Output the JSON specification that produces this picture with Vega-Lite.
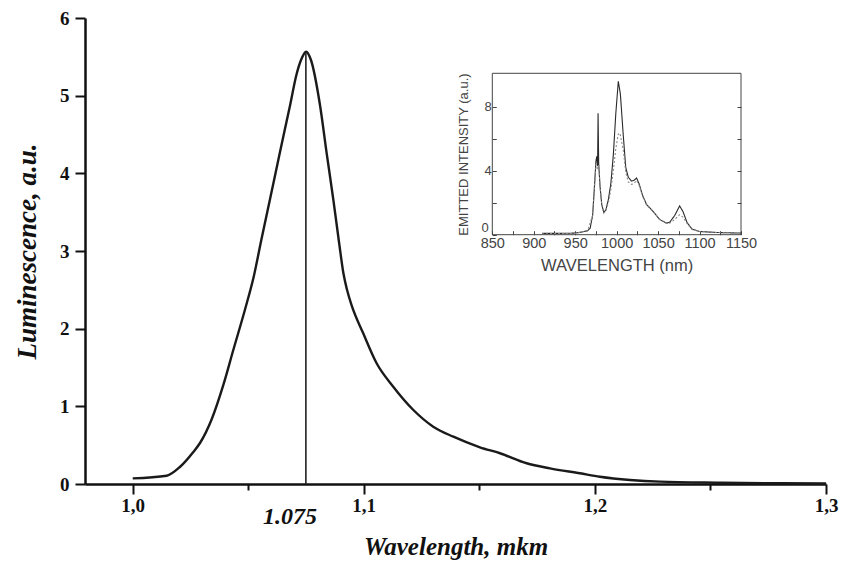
{
  "$schema": "https://vega.github.io/schema/vega-lite/v6.json",
  "width": 741,
  "height": 466,
  "autosize": {"type": "none"},
  "padding": {"left": 85, "top": 18, "right": 21, "bottom": 82},
  "background": "white",
  "config": {"view": {"stroke": null}},
  "datasets": {
    "main": [
      {"wl": 1.0001, "lum": 0.073}, {"wl": 1.0148, "lum": 0.107}, {"wl": 1.0205, "lum": 0.219},
      {"wl": 1.0263, "lum": 0.412}, {"wl": 1.0292, "lum": 0.528}, {"wl": 1.0343, "lum": 0.837},
      {"wl": 1.0393, "lum": 1.275}, {"wl": 1.0436, "lum": 1.725}, {"wl": 1.0487, "lum": 2.25},
      {"wl": 1.0523, "lum": 2.652}, {"wl": 1.0559, "lum": 3.167}, {"wl": 1.0595, "lum": 3.669},
      {"wl": 1.0638, "lum": 4.275}, {"wl": 1.0681, "lum": 4.867}, {"wl": 1.071, "lum": 5.279},
      {"wl": 1.0729, "lum": 5.459}, {"wl": 1.0751, "lum": 5.566}, {"wl": 1.0772, "lum": 5.459},
      {"wl": 1.0811, "lum": 4.88}, {"wl": 1.084, "lum": 4.258}, {"wl": 1.0869, "lum": 3.656},
      {"wl": 1.0895, "lum": 3.077}, {"wl": 1.0912, "lum": 2.72}, {"wl": 1.0928, "lum": 2.5},
      {"wl": 1.0948, "lum": 2.3}, {"wl": 1.0998, "lum": 1.94},
      {"wl": 1.1056, "lum": 1.554}, {"wl": 1.1128, "lum": 1.253}, {"wl": 1.1215, "lum": 0.953},
      {"wl": 1.1301, "lum": 0.738}, {"wl": 1.1388, "lum": 0.609}, {"wl": 1.1503, "lum": 0.473},
      {"wl": 1.159, "lum": 0.396}, {"wl": 1.1705, "lum": 0.267}, {"wl": 1.1806, "lum": 0.202},
      {"wl": 1.1936, "lum": 0.138}, {"wl": 1.2022, "lum": 0.094}, {"wl": 1.2152, "lum": 0.052},
      {"wl": 1.2282, "lum": 0.03}, {"wl": 1.2541, "lum": 0.017}, {"wl": 1.2801, "lum": 0.009},
      {"wl": 1.3, "lum": 0.006}
    ],
    "peak": [{"wl": 1.075, "lo": 0, "hi": 5.566, "labelY": -0.42, "text": "1.075"}],
    "inset": [
      {"nm": 910, "v": 0.08, "s": "a"}, {"nm": 930, "v": 0.08, "s": "a"}, {"nm": 950, "v": 0.1, "s": "a"},
      {"nm": 956, "v": 0.15, "s": "a"}, {"nm": 965, "v": 0.25, "s": "a"}, {"nm": 968, "v": 0.4, "s": "a"},
      {"nm": 971, "v": 1.2, "s": "a"}, {"nm": 973, "v": 2.8, "s": "a"}, {"nm": 975, "v": 4.6, "s": "a"},
      {"nm": 976, "v": 4.9, "s": "a"}, {"nm": 977, "v": 4.3, "s": "a"}, {"nm": 977.6, "v": 7.6, "s": "a"},
      {"nm": 978.3, "v": 4.5, "s": "a"}, {"nm": 980, "v": 3.0, "s": "a"}, {"nm": 982, "v": 1.9, "s": "a"},
      {"nm": 984.5, "v": 1.4, "s": "a"}, {"nm": 987, "v": 1.55, "s": "a"}, {"nm": 990, "v": 2.2, "s": "a"},
      {"nm": 993, "v": 3.2, "s": "a"}, {"nm": 996, "v": 5.0, "s": "a"}, {"nm": 999, "v": 7.6, "s": "a"},
      {"nm": 1002, "v": 9.6, "s": "a"}, {"nm": 1004.5, "v": 8.8, "s": "a"}, {"nm": 1008, "v": 6.2, "s": "a"},
      {"nm": 1011, "v": 4.2, "s": "a"}, {"nm": 1014, "v": 3.6, "s": "a"}, {"nm": 1018, "v": 3.35, "s": "a"},
      {"nm": 1021, "v": 3.4, "s": "a"}, {"nm": 1024, "v": 3.55, "s": "a"}, {"nm": 1027, "v": 3.2, "s": "a"},
      {"nm": 1031, "v": 2.5, "s": "a"}, {"nm": 1036, "v": 1.9, "s": "a"}, {"nm": 1044, "v": 1.45, "s": "a"},
      {"nm": 1052, "v": 0.95, "s": "a"}, {"nm": 1060, "v": 0.72, "s": "a"}, {"nm": 1064, "v": 0.78, "s": "a"},
      {"nm": 1070, "v": 1.2, "s": "a"}, {"nm": 1076, "v": 1.8, "s": "a"}, {"nm": 1080, "v": 1.45, "s": "a"},
      {"nm": 1085, "v": 0.75, "s": "a"}, {"nm": 1091, "v": 0.35, "s": "a"}, {"nm": 1100, "v": 0.2, "s": "a"},
      {"nm": 1120, "v": 0.14, "s": "a"}, {"nm": 1150, "v": 0.1, "s": "a"},
      {"nm": 910, "v": 0.06, "s": "b"}, {"nm": 950, "v": 0.08, "s": "b"}, {"nm": 965, "v": 0.25, "s": "b"},
      {"nm": 971, "v": 1.2, "s": "b"}, {"nm": 973, "v": 2.8, "s": "b"}, {"nm": 975, "v": 4.4, "s": "b"},
      {"nm": 977, "v": 4.1, "s": "b"}, {"nm": 978.3, "v": 4.4, "s": "b"}, {"nm": 980, "v": 3.0, "s": "b"},
      {"nm": 982, "v": 1.9, "s": "b"}, {"nm": 984.5, "v": 1.35, "s": "b"}, {"nm": 987, "v": 1.5, "s": "b"},
      {"nm": 990, "v": 2.0, "s": "b"}, {"nm": 993, "v": 2.8, "s": "b"}, {"nm": 996, "v": 4.0, "s": "b"},
      {"nm": 999, "v": 5.4, "s": "b"}, {"nm": 1002, "v": 6.3, "s": "b"}, {"nm": 1004, "v": 6.35, "s": "b"},
      {"nm": 1008, "v": 5.3, "s": "b"}, {"nm": 1011, "v": 3.9, "s": "b"}, {"nm": 1014, "v": 3.3, "s": "b"},
      {"nm": 1018, "v": 3.15, "s": "b"}, {"nm": 1021, "v": 3.2, "s": "b"}, {"nm": 1024, "v": 3.4, "s": "b"},
      {"nm": 1027, "v": 3.1, "s": "b"}, {"nm": 1031, "v": 2.45, "s": "b"}, {"nm": 1036, "v": 1.85, "s": "b"},
      {"nm": 1044, "v": 1.45, "s": "b"}, {"nm": 1052, "v": 0.95, "s": "b"}, {"nm": 1060, "v": 0.72, "s": "b"},
      {"nm": 1064, "v": 0.72, "s": "b"}, {"nm": 1070, "v": 0.95, "s": "b"}, {"nm": 1076, "v": 1.25, "s": "b"},
      {"nm": 1080, "v": 1.1, "s": "b"}, {"nm": 1085, "v": 0.7, "s": "b"}, {"nm": 1091, "v": 0.33, "s": "b"},
      {"nm": 1100, "v": 0.2, "s": "b"}, {"nm": 1120, "v": 0.14, "s": "b"}, {"nm": 1150, "v": 0.1, "s": "b"}
    ],
    "frame": [{"x1": 850, "x2": 1150, "y1": 0, "y2": 10.1}]
  },
  "resolve": {
    "scale": {"x": "independent", "y": "independent"},
    "axis": {"x": "independent", "y": "independent"}
  },
  "layer": [
    {
      "layer": [
        {
          "data": {"name": "main"},
          "mark": {"type": "line", "color": "#1a1a1a", "strokeWidth": 2.4, "interpolate": "monotone"},
          "encoding": {
            "x": {
              "field": "wl", "type": "quantitative",
              "scale": {"domain": [0.97945, 1.3], "nice": false, "zero": false},
              "axis": {
                "orient": "bottom",
                "values": [1.0, 1.05, 1.1, 1.15, 1.2, 1.25, 1.3],
                "format": ".1f",
                "labelExpr": "round(datum.value*100) % 10 === 0 ? replace(datum.label, '.', ',') : ''",
                "tickSize": {"condition": {"test": "round(datum.value*100) % 10 === 0", "value": 10}, "value": 6},
                "tickColor": "#111", "tickWidth": 2,
                "domainColor": "#111", "domainWidth": 2.5,
                "labelFont": "Liberation Serif", "labelFontWeight": "bold", "labelFontSize": 19,
                "labelColor": "#111", "labelPadding": 2, "labelFlush": false,
                "grid": false,
                "title": "Wavelength, mkm",
                "titleFont": "Liberation Serif", "titleFontStyle": "italic", "titleFontWeight": "bold",
                "titleFontSize": 25, "titleColor": "#111", "titlePadding": 19
              }
            },
            "y": {
              "field": "lum", "type": "quantitative",
              "scale": {"domain": [0, 6], "nice": false},
              "axis": {
                "orient": "left",
                "values": [0, 0.5, 1, 1.5, 2, 2.5, 3, 3.5, 4, 4.5, 5, 5.5, 6],
                "format": "d",
                "labelExpr": "datum.value % 1 === 0 ? datum.label : ''",
                "tickSize": {"condition": {"test": "datum.value % 1 === 0", "value": 10}, "value": 6},
                "tickColor": "#111", "tickWidth": 2,
                "domainColor": "#111", "domainWidth": 2.5,
                "labelFont": "Liberation Serif", "labelFontWeight": "bold", "labelFontSize": 19,
                "labelColor": "#111", "labelPadding": 6, "labelFlush": false,
                "grid": false,
                "title": "Luminescence, a.u.",
                "titleFont": "Liberation Serif", "titleFontStyle": "italic", "titleFontWeight": "bold",
                "titleFontSize": 27, "titleColor": "#111", "titlePadding": 18
              }
            }
          }
        },
        {
          "data": {"name": "peak"},
          "mark": {"type": "rule", "color": "#222", "strokeWidth": 1.6},
          "encoding": {
            "x": {"field": "wl", "type": "quantitative"},
            "y": {"field": "lo", "type": "quantitative"},
            "y2": {"field": "hi"}
          }
        },
        {
          "data": {"name": "peak"},
          "mark": {"type": "text", "font": "Liberation Serif", "fontStyle": "italic", "fontWeight": "bold", "fontSize": 24, "color": "#111", "align": "center", "baseline": "middle", "dx": -16},
          "encoding": {
            "x": {"field": "wl", "type": "quantitative"},
            "y": {"field": "labelY", "type": "quantitative"},
            "text": {"field": "text"}
          }
        }
      ]
    },
    {
      "data": {"name": "inset"},
      "mark": {"type": "line", "strokeWidth": 1.1},
      "encoding": {
        "x": {
          "field": "nm", "type": "quantitative",
          "scale": {"domain": [850, 1150], "range": [407.3, 656], "nice": false, "zero": false},
          "axis": {
            "orient": "bottom", "offset": -249.3,
            "values": [850, 875, 900, 925, 950, 975, 1000, 1025, 1050, 1075, 1100, 1125, 1150],
            "labelExpr": "datum.value % 50 === 0 ? datum.label : ''",
            "format": "d",
            "tickSize": -4, "tickColor": "#444", "tickWidth": 1,
            "domain": false, "grid": false,
            "labelFont": "Liberation Sans", "labelFontSize": 14.5, "labelColor": "#444", "labelPadding": 6,
            "labelFlush": false,
            "title": "WAVELENGTH (nm)", "titleFont": "Liberation Sans", "titleFontWeight": "normal",
            "titleFontSize": 16.5, "titleColor": "#444", "titlePadding": 7
          }
        },
        "y": {
          "field": "v", "type": "quantitative",
          "scale": {"domain": [0, 10.1], "range": [216.7, 55.3], "nice": false},
          "axis": {
            "orient": "left", "offset": -407.3,
            "values": [0, 2, 4, 6, 8],
            "labelExpr": "datum.value % 4 === 0 ? datum.label : ''",
            "labelBaseline": {"condition": {"test": "datum.value === 0", "value": "bottom"}, "value": "middle"},
            "labelPadding": {"condition": {"test": "datum.value === 0", "value": 8}, "value": 5},
            "tickSize": -4, "tickColor": "#444", "tickWidth": 1,
            "domain": false, "grid": false,
            "labelFont": "Liberation Sans", "labelFontSize": 13, "labelColor": "#444",
            "labelFlush": false,
            "title": "EMITTED INTENSITY (a.u.)", "titleFont": "Liberation Sans", "titleFontWeight": "normal",
            "titleFontSize": 13, "titleColor": "#444", "titlePadding": 11
          }
        },
        "color": {"field": "s", "type": "nominal", "scale": {"domain": ["a", "b"], "range": ["#2a2a2a", "#8a8a8a"]}, "legend": null},
        "strokeDash": {"field": "s", "type": "nominal", "scale": {"domain": ["a", "b"], "range": [[1, 0], [2, 2]]}, "legend": null}
      }
    },
    {
      "data": {"name": "frame"},
      "mark": {"type": "rect", "fill": null, "stroke": "#444", "strokeWidth": 1},
      "encoding": {
        "x": {"field": "x1", "type": "quantitative",
          "scale": {"domain": [850, 1150], "range": [407.3, 656], "nice": false, "zero": false},
          "axis": null},
        "x2": {"field": "x2"},
        "y": {"field": "y1", "type": "quantitative",
          "scale": {"domain": [0, 10.1], "range": [216.7, 55.3], "nice": false},
          "axis": {
            "orient": "right", "offset": -85,
            "values": [2, 4, 6, 8],
            "labels": false, "domain": false, "grid": false,
            "tickSize": -4, "tickColor": "#444", "tickWidth": 1,
            "title": null
          }},
        "y2": {"field": "y2"}
      }
    }
  ]
}
